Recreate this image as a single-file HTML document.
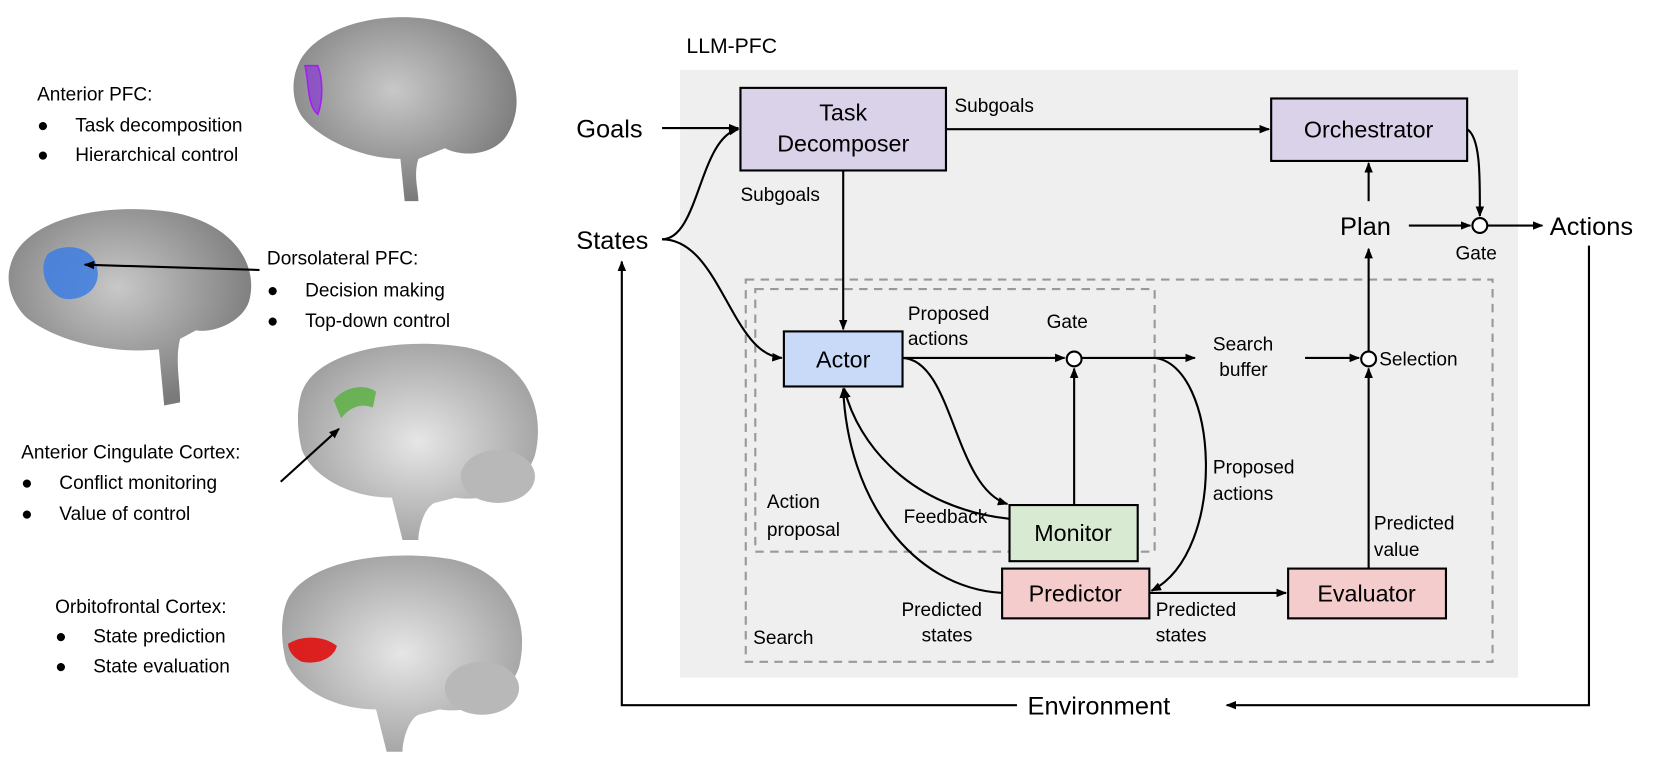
<!DOCTYPE html>
<html><head><meta charset="utf-8"><style>
html,body{margin:0;padding:0;background:#fff;}
body{width:1661px;height:756px;position:relative;overflow:hidden;font-family:"Liberation Sans",Arial,sans-serif;}
</style></head><body>
<svg width="1661" height="756" viewBox="0 0 1568 714" preserveAspectRatio="none" xmlns="http://www.w3.org/2000/svg" font-family="Liberation Sans, Arial, sans-serif">
<defs>
<marker id="a" markerWidth="10" markerHeight="8" refX="9" refY="4" orient="auto" markerUnits="userSpaceOnUse"><path d="M0,0 L10,4 L0,8 z" fill="#000"/></marker>
<radialGradient id="br" cx="0.45" cy="0.4" r="0.6"><stop offset="0" stop-color="#c8c8c8"/><stop offset="1" stop-color="#7a7a7a"/></radialGradient>
<radialGradient id="brm" cx="0.5" cy="0.5" r="0.6"><stop offset="0" stop-color="#e6e6e6"/><stop offset="1" stop-color="#9a9a9a"/></radialGradient>
</defs>

<!-- Brains -->
<g>
<path d="M282,60 C300,20 380,5 430,25 C480,40 500,90 480,125 C470,145 440,150 420,140 L395,150 C390,165 395,180 395,190 L382,190 L378,150 C340,150 300,130 285,110 C275,95 275,75 282,60 z" fill="url(#br)"/>
<path d="M288,62 C292,80 290,100 300,108 C305,95 305,75 300,62 z" fill="#8a3fd0" fill-opacity="0.75" stroke="#a020f0" stroke-width="1.5"/>
</g>
<g>
<path d="M10,250 C20,210 90,190 160,200 C220,210 245,250 235,285 C228,305 200,315 185,312 L170,320 C165,340 170,360 170,380 L155,383 L150,330 C100,335 50,320 25,300 C10,285 5,265 10,250 z" fill="url(#br)"/>
<path d="M45,240 C60,228 90,232 92,255 C95,275 75,285 60,282 C45,278 35,255 45,240 z" fill="#3d7de0" fill-opacity="0.85"/>
</g>
<g>
<path d="M285,370 C300,330 380,318 440,328 C500,340 515,390 505,430 C495,460 460,475 430,470 L410,475 C400,480 395,500 395,510 L380,510 L370,470 C330,470 295,450 285,425 C280,405 280,385 285,370 z" fill="url(#brm)"/>
<path d="M315,378 C325,365 345,362 355,370 L352,385 C340,380 330,385 322,395 z" fill="#5db045" fill-opacity="0.85"/>
<ellipse cx="470" cy="450" rx="35" ry="25" fill="#b8b8b8"/>
</g>
<g>
<path d="M270,570 C285,530 365,518 425,528 C485,540 500,590 490,630 C480,660 445,675 415,670 L395,675 C385,680 380,700 380,710 L365,710 L355,670 C315,670 280,650 270,625 C265,605 265,585 270,570 z" fill="url(#brm)"/>
<path d="M272,608 C285,600 305,600 318,610 C315,622 300,628 285,625 C278,622 272,615 272,608 z" fill="#e01010" fill-opacity="0.9"/>
<ellipse cx="455" cy="650" rx="35" ry="25" fill="#b8b8b8"/>
</g>

<g font-size="18" fill="#000">
<text x="35" y="95">Anterior PFC:</text>
<text x="35" y="124">●</text><text x="71" y="124">Task decomposition</text>
<text x="35" y="152">●</text><text x="71" y="152">Hierarchical control</text>
<text x="252" y="250">Dorsolateral PFC:</text>
<text x="252" y="280">●</text><text x="288" y="280">Decision making</text>
<text x="252" y="309">●</text><text x="288" y="309">Top-down control</text>
<text x="20" y="433">Anterior Cingulate Cortex:</text>
<text x="20" y="462">●</text><text x="56" y="462">Conflict monitoring</text>
<text x="20" y="491">●</text><text x="56" y="491">Value of control</text>
<text x="52" y="579">Orbitofrontal Cortex:</text>
<text x="52" y="607">●</text><text x="88" y="607">State prediction</text>
<text x="52" y="635">●</text><text x="88" y="635">State evaluation</text>
</g>
<line x1="245" y1="255" x2="80" y2="250" stroke="#000" stroke-width="2" marker-end="url(#a)"/>
<line x1="265" y1="455" x2="320" y2="405" stroke="#000" stroke-width="2" marker-end="url(#a)"/>

<!-- LLM-PFC -->
<text x="648" y="50" font-size="20">LLM-PFC</text>
<rect x="642" y="66" width="791" height="574" fill="#efefef"/>
<rect x="704" y="264" width="705" height="361" fill="none" stroke="#999" stroke-width="2" stroke-dasharray="8,6"/>
<rect x="713" y="273" width="377" height="248" fill="none" stroke="#999" stroke-width="2" stroke-dasharray="8,6"/>

<g stroke="#000" stroke-width="2">
<rect x="699" y="83" width="194" height="78" fill="#d9d2e9"/>
<rect x="1200" y="93" width="185" height="59" fill="#d9d2e9"/>
<rect x="740" y="313" width="112" height="52" fill="#c9daf8"/>
<rect x="953" y="477" width="121" height="53" fill="#d9ead3"/>
<rect x="946" y="537" width="139" height="47" fill="#f4cccc"/>
<rect x="1216" y="537" width="149" height="47" fill="#f4cccc"/>
<circle cx="1014" cy="339" r="7" fill="#fff"/>
<circle cx="1292" cy="339" r="7" fill="#fff"/>
<circle cx="1397" cy="213" r="7" fill="#fff"/>
</g>
<g stroke="#000" stroke-width="2" fill="none">
<line x1="625" y1="121" x2="697" y2="121" marker-end="url(#a)"/>
<path d="M625,226 C660,226 660,130 697,122" marker-end="url(#a)"/>
<path d="M625,226 C680,226 690,335 738,338" marker-end="url(#a)"/>
<line x1="893" y1="122" x2="1198" y2="122" marker-end="url(#a)"/>
<line x1="796" y1="161" x2="796" y2="311" marker-end="url(#a)"/>
<line x1="852" y1="338" x2="1005" y2="338" marker-end="url(#a)"/>
<line x1="1021" y1="338" x2="1128" y2="338" marker-end="url(#a)"/>
<line x1="1232" y1="338" x2="1283" y2="338" marker-end="url(#a)"/>
<path d="M852,338 C900,340 900,460 951,476" marker-end="url(#a)"/>
<path d="M953,490 C860,480 810,420 797,367" marker-end="url(#a)"/>
<path d="M946,560 C860,555 800,470 796,367" marker-end="url(#a)"/>
<line x1="1014" y1="477" x2="1014" y2="348" marker-end="url(#a)"/>
<path d="M1090,338 C1150,345 1160,520 1087,558" marker-end="url(#a)"/>
<line x1="1085" y1="560" x2="1214" y2="560" marker-end="url(#a)"/>
<line x1="1292" y1="537" x2="1292" y2="348" marker-end="url(#a)"/>
<line x1="1292" y1="332" x2="1292" y2="235" marker-end="url(#a)"/>
<line x1="1292" y1="190" x2="1292" y2="154" marker-end="url(#a)"/>
<line x1="1330" y1="213" x2="1388" y2="213" marker-end="url(#a)"/>
<path d="M1385,122 C1398,130 1397,170 1397,204" marker-end="url(#a)"/>
<line x1="1404" y1="213" x2="1456" y2="213" marker-end="url(#a)"/>
<polyline points="1500,232 1500,666 1158,666" marker-end="url(#a)"/>
<polyline points="960,666 587,666 587,247" marker-end="url(#a)"/>
</g>

<g font-size="24">
<text x="544" y="130">Goals</text>
<text x="544" y="235">States</text>
<text x="1463" y="222">Actions</text>
<text x="1265" y="222">Plan</text>
<text x="970" y="675">Environment</text>
</g>
<g font-size="22" text-anchor="middle">
<text x="796" y="114">Task</text>
<text x="796" y="143">Decomposer</text>
<text x="1292" y="130">Orchestrator</text>
<text x="796" y="347">Actor</text>
<text x="1013" y="511">Monitor</text>
<text x="1015" y="568">Predictor</text>
<text x="1290" y="568">Evaluator</text>
</g>
<g font-size="18">
<text x="901" y="106">Subgoals</text>
<text x="699" y="190">Subgoals</text>
<text x="857" y="302">Proposed</text>
<text x="857" y="326">actions</text>
<text x="988" y="310">Gate</text>
<text x="1145" y="331">Search</text>
<text x="1151" y="355">buffer</text>
<text x="1302" y="345">Selection</text>
<text x="1374" y="245">Gate</text>
<text x="1145" y="447">Proposed</text>
<text x="1145" y="472">actions</text>
<text x="724" y="480">Action</text>
<text x="724" y="506">proposal</text>
<text x="853" y="494">Feedback</text>
<text x="1297" y="500">Predicted</text>
<text x="1297" y="525">value</text>
<text x="851" y="582">Predicted</text>
<text x="870" y="606">states</text>
<text x="1091" y="582">Predicted</text>
<text x="1091" y="606">states</text>
<text x="711" y="608">Search</text>
</g>
</svg>
</body></html>
